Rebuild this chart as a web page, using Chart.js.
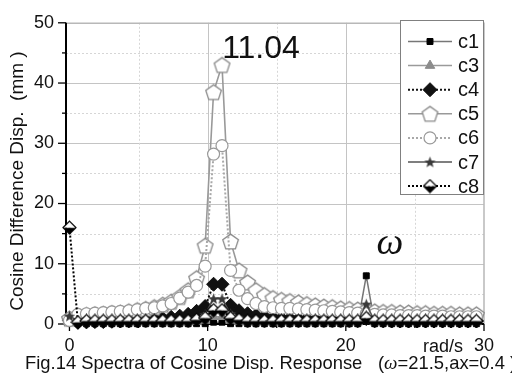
<!DOCTYPE html>
<html>
<head>
<meta charset="utf-8">
<script src="https://cdn.jsdelivr.net/npm/chart.js@4/dist/chart.umd.min.js"></script>
<style>
html,body{margin:0;padding:0;background:#fff;}
#wrap{width:512px;height:374px;position:relative;}
</style>
</head>
<body>
<div id="wrap"><canvas id="c" width="512" height="374"></canvas></div>
<script>
// ---- data ----
const xValues = [0.00,0.61,1.23,1.84,2.45,3.07,3.68,4.30,4.91,5.52,6.14,6.75,7.36,7.98,8.59,9.20,9.82,10.43,11.04,11.66,12.27,12.89,13.50,14.11,14.73,15.34,15.95,16.57,17.18,17.79,18.41,19.02,19.63,20.25,20.86,21.48,22.09,22.70,23.32,23.93,24.54,25.16,25.77,26.38,27.00,27.61,28.23,28.84,29.45];
const seriesNames = ['c1','c3','c4','c5','c6','c7','c8'];
const c1 = [0.2,0.05,0.05,0.05,0.05,0.05,0.05,0.05,0.05,0.05,0.05,0.05,0.05,0.05,0.05,0.05,0.05,0.3,0.3,0.05,0.05,0.05,0.05,0.05,0.05,0.05,0.05,0.05,0.05,0.05,0.05,0.05,0.05,0.05,0.05,8.0,0.05,0.05,0.05,0.05,0.05,0.05,0.05,0.05,0.05,0.05,0.05,0.05,0.05];
const c3 = [0.5,0.3,0.3,0.3,0.3,0.3,0.3,0.3,0.3,0.3,0.3,0.3,0.3,0.3,0.3,0.4,0.6,1.2,1.2,0.6,0.4,0.3,0.3,0.3,0.3,0.3,0.3,0.3,0.3,0.3,0.3,0.3,0.3,0.3,0.3,1.8,0.3,0.3,0.3,0.3,0.3,0.3,0.3,0.3,0.3,0.3,0.3,0.3,0.3];
const c4 = [0.6,0.3,0.35,0.4,0.4,0.45,0.5,0.55,0.6,0.7,0.8,0.9,1.1,1.3,1.6,2.1,2.9,6.6,6.6,3.1,2.2,1.7,1.4,1.2,1.05,0.95,0.9,0.85,0.8,0.75,0.7,0.7,0.65,0.65,0.6,0.9,0.6,0.55,0.5,0.5,0.5,0.5,0.5,0.5,0.5,0.5,0.5,0.5,0.5];
const c5 = [0.9,1.4,1.5,1.6,1.7,1.8,1.9,2.1,2.3,2.5,2.8,3.2,3.7,4.5,5.6,7.6,13.0,38.5,43.0,13.7,8.9,6.9,5.6,4.8,4.3,4.0,3.8,3.6,3.3,3.1,2.9,2.8,2.6,2.5,2.4,2.3,2.1,2.0,2.0,1.9,1.9,1.8,1.8,1.7,1.7,1.7,1.6,1.6,1.6];
const c6 = [0.6,1.6,1.7,1.8,1.9,2.0,2.1,2.2,2.4,2.6,2.7,3.0,3.4,4.3,5.3,6.4,9.6,28.2,29.6,8.9,5.6,4.2,3.4,2.9,2.7,2.6,2.6,2.5,2.4,2.3,2.2,2.1,2.0,1.9,1.8,1.7,1.6,1.5,1.5,1.4,1.4,1.4,1.3,1.3,1.3,1.2,1.2,1.2,1.2];
const c7 = [1.3,0.5,0.5,0.5,0.5,0.5,0.5,0.5,0.5,0.5,0.5,0.5,0.5,0.5,0.7,1.0,1.6,4.2,4.2,1.7,1.0,0.8,0.5,0.5,0.5,0.5,0.5,0.5,0.5,0.5,0.5,0.5,0.5,0.5,0.5,3.3,0.5,0.5,0.5,0.5,0.5,0.5,0.5,0.5,0.5,0.5,0.5,0.5,0.5];
const c8 = [16.0,0.3,0.5,0.5,0.5,0.5,0.5,0.5,0.5,0.5,0.5,0.5,0.5,0.5,0.5,0.7,1.0,2.3,2.3,1.0,0.7,0.5,0.5,0.5,0.5,0.5,0.5,0.5,0.5,0.5,0.5,0.5,0.5,0.5,0.5,1.0,0.5,0.5,0.5,0.5,0.5,0.5,0.5,0.5,0.5,0.5,0.5,0.5,0.5];
const xTickValues = [0,5,10,15,20,25,30];
const yTickValues = [0,5,10,15,20,25,30,35,40,45,50];
const peakLabel = '11.04';
const forcingLabel = 'ω';
const yTitle = 'Cosine Difference Disp.  (mm )';
const xUnit = 'rad/s';
const captionMain = 'Fig.14 Spectra of Cosine Disp. Response';
const captionParams = ['(', 'ω', '=21.5,ax=0.4 )'];

// ---- custom marker images ----
function makeCanvas(s){const c=document.createElement('canvas');c.width=s;c.height=s;return c;}
function pentagonImg(){
  const s=19,c=makeCanvas(s),g=c.getContext('2d'),r=8.2,cx=s/2,cy=s/2+0.8;
  g.beginPath();
  for(let i=0;i<5;i++){const a=-Math.PI/2+i*2*Math.PI/5;const px=cx+r*Math.cos(a),py=cy+r*Math.sin(a);i?g.lineTo(px,py):g.moveTo(px,py);}
  g.closePath();g.fillStyle='#fff';g.fill();g.strokeStyle='#8a8a8a';g.lineWidth=1.3;g.stroke();
  return c;
}
function starImg(){
  const s=13,c=makeCanvas(s),g=c.getContext('2d'),R=6,r=2.5,cx=s/2,cy=s/2+0.5;
  g.beginPath();
  for(let i=0;i<10;i++){const a=-Math.PI/2+i*Math.PI/5;const rr=i%2?r:R;const px=cx+rr*Math.cos(a),py=cy+rr*Math.sin(a);i?g.lineTo(px,py):g.moveTo(px,py);}
  g.closePath();g.fillStyle='#3a3a3a';g.fill();
  return c;
}
function halfDiamondImg(){
  const s=15,c=makeCanvas(s),g=c.getContext('2d'),h=6.5,cx=s/2,cy=s/2;
  g.beginPath();g.moveTo(cx-h,cy);g.lineTo(cx,cy+h);g.lineTo(cx+h,cy);g.closePath();g.fillStyle='#000';g.fill();
  g.beginPath();g.moveTo(cx-h,cy);g.lineTo(cx,cy-h);g.lineTo(cx+h,cy);g.closePath();g.fillStyle='#fff';g.fill();
  g.beginPath();g.moveTo(cx-h,cy);g.lineTo(cx,cy-h);g.lineTo(cx+h,cy);g.lineTo(cx,cy+h);g.closePath();
  g.strokeStyle='#000';g.lineWidth=1.2;g.stroke();
  return c;
}
const pentagon = pentagonImg(), star = starImg(), halfDiamond = halfDiamondImg();

const seriesValues = [c1,c3,c4,c5,c6,c7,c8];
const styles = [
  {borderColor:'#777',borderWidth:1.5,borderDash:[],pointStyle:'rect',pointRadius:4.2,pointBackgroundColor:'#000',pointBorderColor:'#000',pointBorderWidth:1},
  {borderColor:'#9a9a9a',borderWidth:1.5,borderDash:[],pointStyle:'triangle',pointRadius:5.5,pointBackgroundColor:'#8c8c8c',pointBorderColor:'#8c8c8c',pointBorderWidth:1},
  {borderColor:'#111',borderWidth:2,borderDash:[2,2],pointStyle:'rectRot',pointRadius:7,pointBackgroundColor:'#111',pointBorderColor:'#111',pointBorderWidth:1},
  {borderColor:'#999',borderWidth:1.6,borderDash:[],pointStyle:pentagon,pointRadius:8,pointBackgroundColor:'#fff',pointBorderColor:'#888',pointBorderWidth:1},
  {borderColor:'#a8a8a8',borderWidth:2,borderDash:[2,2],pointStyle:'circle',pointRadius:6,pointBackgroundColor:'#fff',pointBorderColor:'#999',pointBorderWidth:1.2},
  {borderColor:'#555',borderWidth:1.5,borderDash:[],pointStyle:star,pointRadius:6,pointBackgroundColor:'#3a3a3a',pointBorderColor:'#3a3a3a',pointBorderWidth:1},
  {borderColor:'#000',borderWidth:2,borderDash:[2,2],pointStyle:halfDiamond,pointRadius:7,pointBackgroundColor:'#fff',pointBorderColor:'#000',pointBorderWidth:1}
];

const datasets = seriesNames.map((name,i)=>Object.assign({
  label:name,
  data:xValues.map((x,j)=>({x:x,y:seriesValues[i][j]})),
  fill:false,tension:0,clip:false,
  order:seriesNames.length-i,
  pointHoverRadius:styles[i].pointRadius
},styles[i]));

const FONT = '"Liberation Sans", Arial, sans-serif';

const decor = {
  id:'decor',
  beforeDatasetsDraw(chart){
    const ctx=chart.ctx, a=chart.chartArea, xs=chart.scales.x, ys=chart.scales.y;
    ctx.save();
    ctx.lineWidth=1;
    yTickValues.forEach(v=>{
      if(v===0) return;
      const y=Math.round(ys.getPixelForValue(v))+0.5;
      ctx.strokeStyle = v%10===0 ? '#c4c4c4' : '#d6d6d6';
      ctx.setLineDash(v%10===0 ? [] : [2,2]);
      ctx.beginPath();ctx.moveTo(a.left,y);ctx.lineTo(a.right,y);ctx.stroke();
    });
    xTickValues.forEach(v=>{
      if(v===0||v===30) return;
      const x=Math.round(xs.getPixelForValue(v))+0.5;
      ctx.strokeStyle = v%10===0 ? '#c4c4c4' : '#d6d6d6';
      ctx.setLineDash(v%10===0 ? [] : [2,2]);
      ctx.beginPath();ctx.moveTo(x,a.top);ctx.lineTo(x,a.bottom);ctx.stroke();
    });
    ctx.setLineDash([]);
    ctx.strokeStyle='#b8b8b8';ctx.lineWidth=1.5;
    ctx.beginPath();ctx.moveTo(a.left,a.top+0.5);ctx.lineTo(a.right,a.top+0.5);ctx.lineTo(a.right,a.bottom);ctx.stroke();
    ctx.strokeStyle='#000';ctx.lineWidth=2;
    ctx.beginPath();ctx.moveTo(a.left,a.top);ctx.lineTo(a.left,a.bottom);ctx.lineTo(a.right,a.bottom);ctx.stroke();
    ctx.lineWidth=1.3;
    yTickValues.forEach(v=>{
      const y=ys.getPixelForValue(v), len=v%10===0?8:4;
      ctx.beginPath();ctx.moveTo(a.left-len,y);ctx.lineTo(a.left,y);ctx.stroke();
    });
    xTickValues.forEach(v=>{
      const x=xs.getPixelForValue(v), len=v%10===0?7:4;
      ctx.beginPath();ctx.moveTo(x,a.bottom);ctx.lineTo(x,a.bottom+len);ctx.stroke();
    });
    ctx.restore();
  },
  afterDatasetsDraw(chart){
    const ctx=chart.ctx, a=chart.chartArea;
    ctx.save();
    const L=400,T=20,R=484,B=195;
    ctx.fillStyle='#fff';ctx.fillRect(L,T,R-L,B-T);
    ctx.strokeStyle='#808080';ctx.lineWidth=1;ctx.strokeRect(L+0.5,T+0.5,R-L-1,B-T-1);
    chart.data.datasets.forEach((ds,i)=>{
      const y=41.5+i*24.1;
      ctx.strokeStyle=ds.borderColor;ctx.lineWidth=ds.borderWidth;ctx.setLineDash(ds.borderDash||[]);
      ctx.beginPath();ctx.moveTo(408,y);ctx.lineTo(452,y);ctx.stroke();
      ctx.setLineDash([]);
      ctx.fillStyle=ds.pointBackgroundColor;ctx.strokeStyle=ds.pointBorderColor;ctx.lineWidth=ds.pointBorderWidth;
      Chart.helpers.drawPoint(ctx,{pointStyle:ds.pointStyle,radius:ds.pointRadius,rotation:0,borderWidth:ds.pointBorderWidth},430,y);
      ctx.fillStyle='#111';ctx.font='20px '+FONT;ctx.textAlign='left';ctx.textBaseline='middle';
      ctx.fillText(ds.label,458,y+1);
    });
    ctx.fillStyle='#111';ctx.textBaseline='alphabetic';
    ctx.font='32px '+FONT;ctx.textAlign='center';
    ctx.fillText(peakLabel,261,58);
    ctx.font='italic 38px "Liberation Serif", "Times New Roman", serif';
    ctx.fillText(forcingLabel,390,254);
    ctx.save();
    ctx.translate(18,181);ctx.rotate(-Math.PI/2);
    ctx.font='19px '+FONT;ctx.textAlign='center';ctx.textBaseline='middle';
    ctx.fillText(yTitle,0,0);
    ctx.restore();
    ctx.font='18px '+FONT;ctx.textAlign='left';
    ctx.fillText(xUnit,423,352);
    ctx.font='18.4px '+FONT;
    ctx.fillText(captionMain,25,369);
    let cx=378;
    ctx.fillText(captionParams[0],cx,369);cx+=ctx.measureText(captionParams[0]).width;
    ctx.font='italic 19px "Liberation Serif", serif';
    ctx.fillText(captionParams[1],cx,369);cx+=ctx.measureText(captionParams[1]).width;
    ctx.font='18.4px '+FONT;
    ctx.fillText(captionParams[2],cx,369);
    ctx.restore();
  }
};

new Chart(document.getElementById('c'),{
  type:'line',
  data:{datasets:datasets},
  plugins:[decor],
  options:{
    responsive:false,animation:false,devicePixelRatio:1,
    layout:{padding:{left:0,top:19,right:28,bottom:0}},
    plugins:{legend:{display:false},tooltip:{enabled:false}},
    scales:{
      x:{type:'linear',min:-0.25,max:30,
        afterBuildTicks:s=>{s.ticks=xTickValues.map(v=>({value:v}));},
        afterFit:s=>{s.height=50;},
        grid:{display:false,drawTicks:false},border:{display:false},
        ticks:{autoSkip:false,maxRotation:0,padding:11,color:'#111',font:{family:FONT,size:18},
          callback:v=>(v%10===0?String(v):'')}},
      y:{type:'linear',min:0,max:50,
        afterBuildTicks:s=>{s.ticks=yTickValues.map(v=>({value:v}));},
        afterFit:s=>{s.width=66;},
        grid:{display:false,drawTicks:false},border:{display:false},
        ticks:{padding:12,color:'#111',font:{family:FONT,size:18},
          callback:v=>(v%10===0?String(v):'')}}
    }
  }
});
</script>
</body>
</html>
